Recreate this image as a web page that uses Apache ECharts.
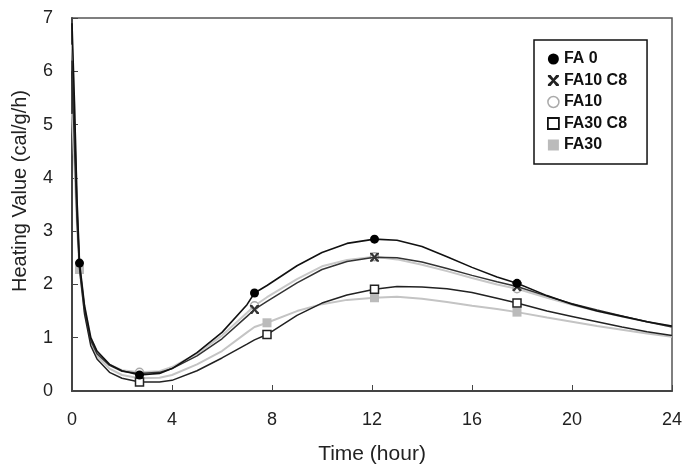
<!DOCTYPE html>
<html>
<head>
<meta charset="utf-8">
<script src="https://cdn.jsdelivr.net/npm/echarts@6/dist/echarts.min.js"></script>
<style>
  html, body { margin: 0; padding: 0; background: #fff; }
  #main { width: 689px; height: 469px; }
</style>
</head>
<body>
<div id="main"></div>
<script>
// 时间轴 (hour)
var hours = [0, 0.1, 0.2, 0.3, 0.5, 0.75, 1, 1.5, 2, 2.7, 3.5, 4, 5, 6, 7, 7.3, 7.8,
  9, 10, 11, 12.1, 13, 14, 15, 16, 17, 17.8, 19, 20, 21, 22, 23, 24];

// heating value (cal/g/h)
var fa0 = [6.9, 5.4, 3.6, 2.4, 1.6, 1.0, 0.75, 0.5, 0.38, 0.3, 0.33, 0.42, 0.72, 1.1, 1.62, 1.84, 1.98,
  2.35, 2.6, 2.77, 2.85, 2.83, 2.71, 2.52, 2.32, 2.14, 2.02, 1.79, 1.63, 1.5, 1.4, 1.3, 1.22];
var fa10c8 = [6.2, 5.0, 3.4, 2.35, 1.55, 0.95, 0.7, 0.48, 0.37, 0.33, 0.35, 0.42, 0.66, 0.98, 1.4, 1.53, 1.68,
  2.03, 2.28, 2.43, 2.51, 2.5, 2.42, 2.3, 2.17, 2.05, 1.96, 1.78, 1.64, 1.52, 1.41, 1.3, 1.2];
var fa10 = [6.5, 5.2, 3.5, 2.4, 1.6, 1.0, 0.73, 0.5, 0.39, 0.35, 0.37, 0.45, 0.7, 1.04, 1.47, 1.6, 1.76,
  2.1, 2.34, 2.46, 2.52, 2.47, 2.37, 2.25, 2.12, 2.0, 1.92, 1.75, 1.62, 1.5, 1.4, 1.3, 1.21];
var fa30c8 = [6.0, 4.6, 3.2, 2.3, 1.45, 0.85, 0.6, 0.35, 0.24, 0.17, 0.17, 0.2, 0.38, 0.62, 0.88, 0.96, 1.06,
  1.42, 1.65, 1.8, 1.91, 1.96, 1.95, 1.92, 1.85, 1.74, 1.65, 1.5, 1.4, 1.3, 1.2, 1.11, 1.04];
var fa30 = [5.2, 4.2, 3.1, 2.28, 1.5, 0.92, 0.66, 0.42, 0.3, 0.24, 0.25, 0.3, 0.5, 0.75, 1.1, 1.2, 1.28,
  1.5, 1.63, 1.71, 1.75, 1.77, 1.73, 1.67, 1.6, 1.54, 1.48, 1.38, 1.3, 1.22, 1.15, 1.08, 1.02];

// 标记点所在时间
var marks0 = [0.3, 2.7, 7.3, 12.1, 17.8];
var marks10c8 = [7.3, 12.1, 17.8];
var marks10 = [2.7, 7.3, 12.1, 17.8];
var marks30c8 = [2.7, 7.8, 12.1, 17.8];
var marks30 = [0.3, 7.8, 12.1, 17.8];

var crossPath = 'path://M0,0L2.5,0L5,3.2L7.5,0L10,0L10,1.5L6.4,5L10,8.5L10,10L7.5,10L5,6.8L2.5,10L0,10L0,8.5L3.6,5L0,1.5Z';

var buildData = function(vals, marks) {
  var out = [];
  for (var i = 0; i < hours.length; i++) {
    if (marks.indexOf(hours[i]) >= 0) {
      out.push({ value: [hours[i], vals[i]] });
    } else {
      out.push({ value: [hours[i], vals[i]], symbol: 'none' });
    }
  }
  return out;
};

var font = 'Liberation Sans';
var myChart = echarts.init(document.getElementById('main'));

var option = {
  backgroundColor: '#fff',
  animation: false,
  grid: {
    left: 72, right: 17, top: 18, bottom: 78,
    outerBoundsMode: 'none',
    show: true, borderColor: '#555', borderWidth: 1.5
  },
  // y轴标题 (位置略偏上)
  graphic: [{
    type: 'text',
    x: 20, y: 191,
    rotation: Math.PI / 2,
    style: {
      text: 'Heating Value (cal/g/h)',
      font: '20px "Liberation Sans"',
      fill: '#222',
      align: 'center',
      verticalAlign: 'middle'
    }
  }],
  legend: {
    orient: 'vertical',
    left: 534, top: 40,
    padding: [11, 20, 11, 13],
    itemGap: 5.5,
    itemWidth: 11, itemHeight: 11,
    borderColor: '#111', borderWidth: 1.5,
    textStyle: { fontFamily: font, fontSize: 16, color: '#111', fontWeight: 'bold' },
    data: [
      { name: 'FA 0', icon: 'circle', itemStyle: { color: '#000', borderWidth: 0 } },
      { name: 'FA10 C8', icon: crossPath, itemStyle: { color: '#222', borderWidth: 0 } },
      { name: 'FA10', icon: 'circle', itemStyle: { color: '#fff', borderColor: '#aaa', borderWidth: 1.5 } },
      { name: 'FA30 C8', icon: 'rect', itemStyle: { color: '#fff', borderColor: '#111', borderWidth: 1.8 } },
      { name: 'FA30', icon: 'rect', itemStyle: { color: '#bbb', borderWidth: 0 } }
    ]
  },
  xAxis: {
    type: 'value', min: 0, max: 24, interval: 4,
    name: 'Time (hour)', nameLocation: 'middle', nameGap: 53,
    nameTextStyle: { fontFamily: font, fontSize: 21, color: '#222' },
    axisLine: { lineStyle: { color: '#444', width: 2 } },
    axisTick: { inside: true, length: 6, lineStyle: { color: '#444', width: 1 } },
    axisLabel: { fontFamily: font, fontSize: 18, color: '#222', margin: 20 },
    splitLine: { show: false }
  },
  yAxis: {
    type: 'value', min: 0, max: 7, interval: 1,
    axisLine: { show: true, lineStyle: { color: '#444', width: 2 } },
    axisTick: { show: true, inside: true, length: 6, lineStyle: { color: '#444', width: 1 } },
    axisLabel: { fontFamily: font, fontSize: 18, color: '#222', margin: 19 },
    splitLine: { show: false }
  },
  series: [
    {
      name: 'FA30', type: 'line', z: 2,
      symbol: 'rect', symbolSize: 9,
      itemStyle: { color: '#bbb' },
      lineStyle: { color: '#c4c4c4', width: 2 },
      data: buildData(fa30, marks30)
    },
    {
      name: 'FA10', type: 'line', z: 2,
      symbol: 'circle', symbolSize: 8,
      itemStyle: { color: '#fff', borderColor: '#aaa', borderWidth: 1.5 },
      lineStyle: { color: '#c8c8c8', width: 2 },
      data: buildData(fa10, marks10)
    },
    {
      name: 'FA30 C8', type: 'line', z: 3,
      symbol: 'rect', symbolSize: 8,
      itemStyle: { color: '#fff', borderColor: '#222', borderWidth: 1.5 },
      lineStyle: { color: '#222', width: 1.5 },
      data: buildData(fa30c8, marks30c8)
    },
    {
      name: 'FA10 C8', type: 'line', z: 3,
      symbol: crossPath, symbolSize: 9,
      itemStyle: { color: '#333' },
      lineStyle: { color: '#333', width: 1.5 },
      data: buildData(fa10c8, marks10c8)
    },
    {
      name: 'FA 0', type: 'line', z: 4,
      symbol: 'circle', symbolSize: 9,
      itemStyle: { color: '#000' },
      lineStyle: { color: '#111', width: 1.6 },
      data: buildData(fa0, marks0)
    }
  ]
};

myChart.setOption(option);
</script>
</body>
</html>
